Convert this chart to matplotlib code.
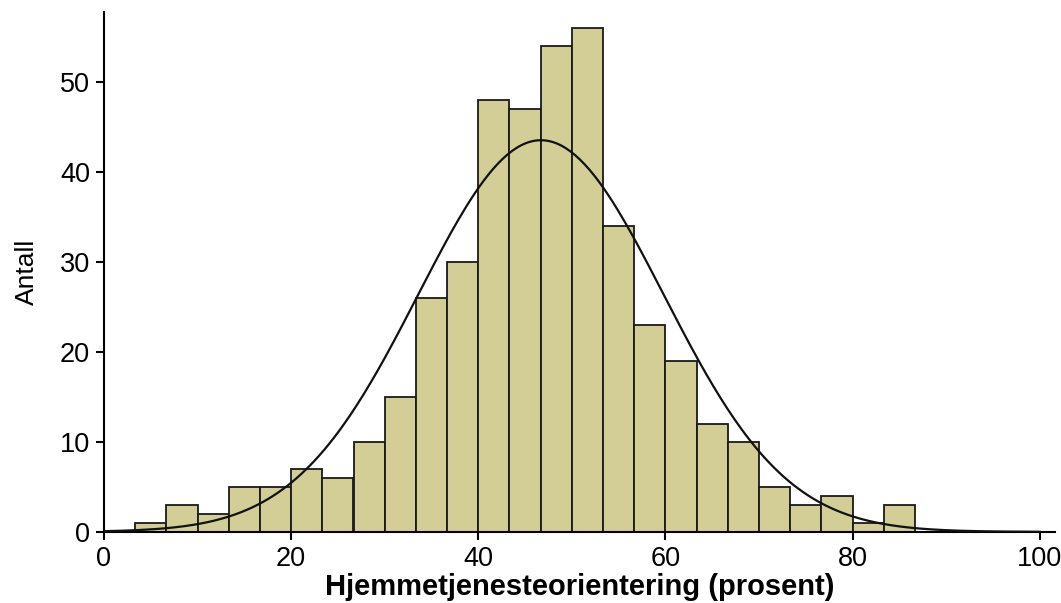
import numpy as np
import matplotlib.pyplot as plt

# bin edges: 30 bins across 0-100, only bins with counts listed
bin_left = [3.33, 6.67, 10.0, 13.33, 16.67, 20.0, 23.33, 26.67, 30.0, 33.33,
            36.67, 40.0, 43.33, 46.67, 50.0, 53.33, 56.67, 60.0, 63.33, 66.67,
            70.0, 73.33, 76.67, 80.0, 83.33]
counts = [1, 3, 2, 5, 5, 7, 6, 10, 15, 26,
          30, 48, 47, 54, 56, 34, 23, 19, 12, 10,
          5, 3, 4, 1, 3]
bin_width = 100 / 30

# fitted normal curve
mean = 46.7
sd = 13.1

plt.rcParams['font.family'] = ['Liberation Sans', 'DejaVu Sans']

fig = plt.figure(figsize=(10.61, 6.03), dpi=100)
ax = fig.add_axes([0.098, 0.118, 0.896, 0.862])

ax.bar(bin_left, counts, width=bin_width, align='edge',
       color='#d2ce96', edgecolor='#1a1a1a', linewidth=1.3, zorder=2)

n = sum(counts)
xs = np.linspace(0, 100, 400)
ys = n * bin_width * np.exp(-0.5 * ((xs - mean) / sd) ** 2) / (sd * np.sqrt(2 * np.pi))
ax.plot(xs, ys, color='#111111', linewidth=1.6, zorder=3)

ax.set_xlim(0, 101.6)
ax.set_ylim(0, 57.8)
ax.set_xticks([0, 20, 40, 60, 80, 100])
ax.set_yticks([0, 10, 20, 30, 40, 50])

for s in ['top', 'right']:
    ax.spines[s].set_visible(False)
for s in ['left', 'bottom']:
    ax.spines[s].set_linewidth(1.5)
ax.tick_params(direction='out', length=6, width=1.5, labelsize=19.5, pad=4)

ax.set_xlabel('Hjemmetjenesteorientering (prosent)', fontsize=21, fontweight='bold', labelpad=1)
ax.set_ylabel('Antall', fontsize=19, labelpad=15)

fig.savefig('out.png', dpi=100)
